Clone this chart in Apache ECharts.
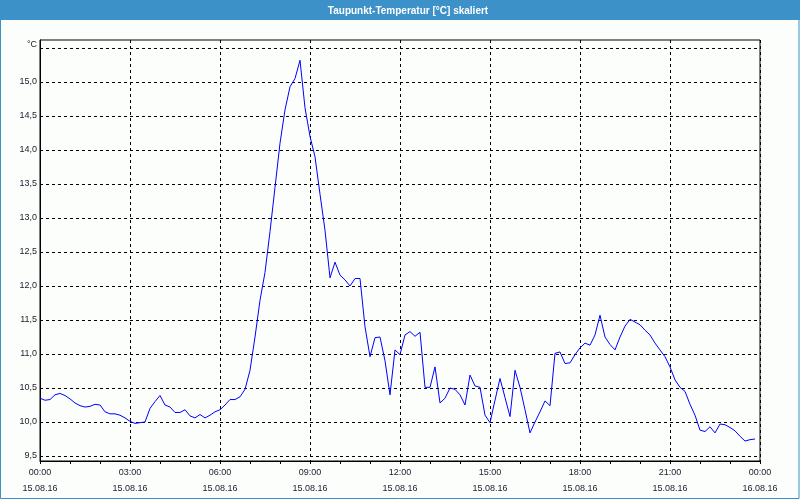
<!DOCTYPE html>
<html><head><meta charset="utf-8">
<script src="https://cdn.jsdelivr.net/npm/echarts@6/dist/echarts.min.js"></script>
<style>html,body{margin:0;padding:0;background:#fcfefc}#c{width:800px;height:500px}</style>
</head><body><div id="c"></div>
<script>
const titleText = 'Taupunkt-Temperatur [°C] skaliert';
const unitLabel = '°C';
const startDate = '15.08.16';
const endDate = '16.08.16';
const stepMinutes = 10;
const yTickValues = [9.5,10.0,10.5,11.0,11.5,12.0,12.5,13.0,13.5,14.0,14.5,15.0,15.5];
const yLabelValues = [9.5,10.0,10.5,11.0,11.5,12.0,12.5,13.0,13.5,14.0,14.5,15.0];
const dewPoint = [
10.35,10.32,10.33,10.40,10.42,10.39,10.34,10.28,10.24,10.22,
10.23,10.26,10.25,10.15,10.12,10.12,10.10,10.06,10.01,9.98,
9.99,10.00,10.20,10.30,10.39,10.25,10.22,10.14,10.14,10.18,
10.09,10.06,10.11,10.06,10.10,10.15,10.18,10.25,10.33,10.33,
10.37,10.48,10.76,11.25,11.79,12.20,12.80,13.45,14.10,14.59,
14.93,15.05,15.32,14.62,14.20,13.90,13.35,12.82,12.12,12.35,
12.16,12.09,12.00,12.11,12.11,11.40,10.96,11.24,11.25,10.90,
10.40,11.06,10.99,11.28,11.33,11.26,11.32,10.51,10.51,10.81,
10.28,10.35,10.50,10.48,10.40,10.25,10.69,10.53,10.51,10.10,
9.99,10.32,10.64,10.36,10.08,10.76,10.51,10.18,9.84,10.00,
10.15,10.31,10.24,11.01,11.03,10.86,10.87,10.99,11.09,11.16,
11.13,11.28,11.57,11.25,11.14,11.06,11.25,11.41,11.51,11.47,
11.43,11.35,11.28,11.16,11.06,10.96,10.81,10.62,10.51,10.45,
10.26,10.10,9.88,9.86,9.93,9.84,9.97,9.96,9.92,9.87,
9.79,9.72,9.74,9.75
];

const chart = echarts.init(document.getElementById('c'));
const font = 'Liberation Sans';
const pad = n => (n < 10 ? '0' : '') + n;
const seriesData = dewPoint.map((v, i) => [i * stepMinutes / 60, v]);
const dash = {color: '#000', width: 1, type: [3, 3]};

chart.setOption({
  animation: false,
  backgroundColor: '#fcfefc',
  grid: {left: 40, right: 40, top: 40, bottom: 39, show: true, borderColor: '#000', borderWidth: 1, backgroundColor: 'transparent'},
  xAxis: {
    type: 'value', min: 0, max: 24, interval: 3,
    axisLine: {show: true, lineStyle: {color: '#000', width: 1}},
    axisTick: {show: true, length: 3, lineStyle: {color: '#000'}},
    minorTick: {show: true, splitNumber: 3, length: 3, lineStyle: {color: '#000'}},
    splitLine: {show: true, lineStyle: dash},
    axisLabel: {
      margin: 4, color: '#1a1a2a', fontFamily: font, fontSize: 9, lineHeight: 16,
      formatter: v => pad(v % 24) + ':00\n' + (v >= 24 ? endDate : startDate)
    }
  },
  yAxis: {
    type: 'value', min: 9.5 - 5 / 68, max: 15.5 + 8 / 68,
    axisLine: {show: true, lineStyle: {color: '#000', width: 1}},
    axisTick: {show: false, customValues: yTickValues},
    splitLine: {show: true, lineStyle: dash},
    axisLabel: {
      customValues: yLabelValues, margin: 3, color: '#1a1a2a', fontFamily: font, fontSize: 9,
      formatter: v => v.toFixed(1).replace('.', ',')
    }
  },
  graphic: [
    {type: 'rect', shape: {x: 0, y: 0, width: 800, height: 20}, style: {fill: '#3c91c8'}, z: 10},
    {type: 'text', x: 408, y: 11, style: {text: titleText, fill: '#fff', font: 'bold 10px "Liberation Sans"', align: 'center', verticalAlign: 'middle'}, z: 11},
    {type: 'rect', shape: {x: 0.5, y: 0.5, width: 798.5, height: 498}, style: {fill: 'none', stroke: '#3c91c8', lineWidth: 1}, z: 10},
    {type: 'text', x: 37, y: 45, style: {text: unitLabel, fill: '#1a1a2a', font: '9px "Liberation Sans"', align: 'right', verticalAlign: 'middle'}, z: 11}
  ],
  series: [{
    type: 'line', data: seriesData, showSymbol: false, smooth: false,
    lineStyle: {color: '#0000ff', width: 1}, itemStyle: {color: '#0000ff'}
  }]
});
</script></body></html>
